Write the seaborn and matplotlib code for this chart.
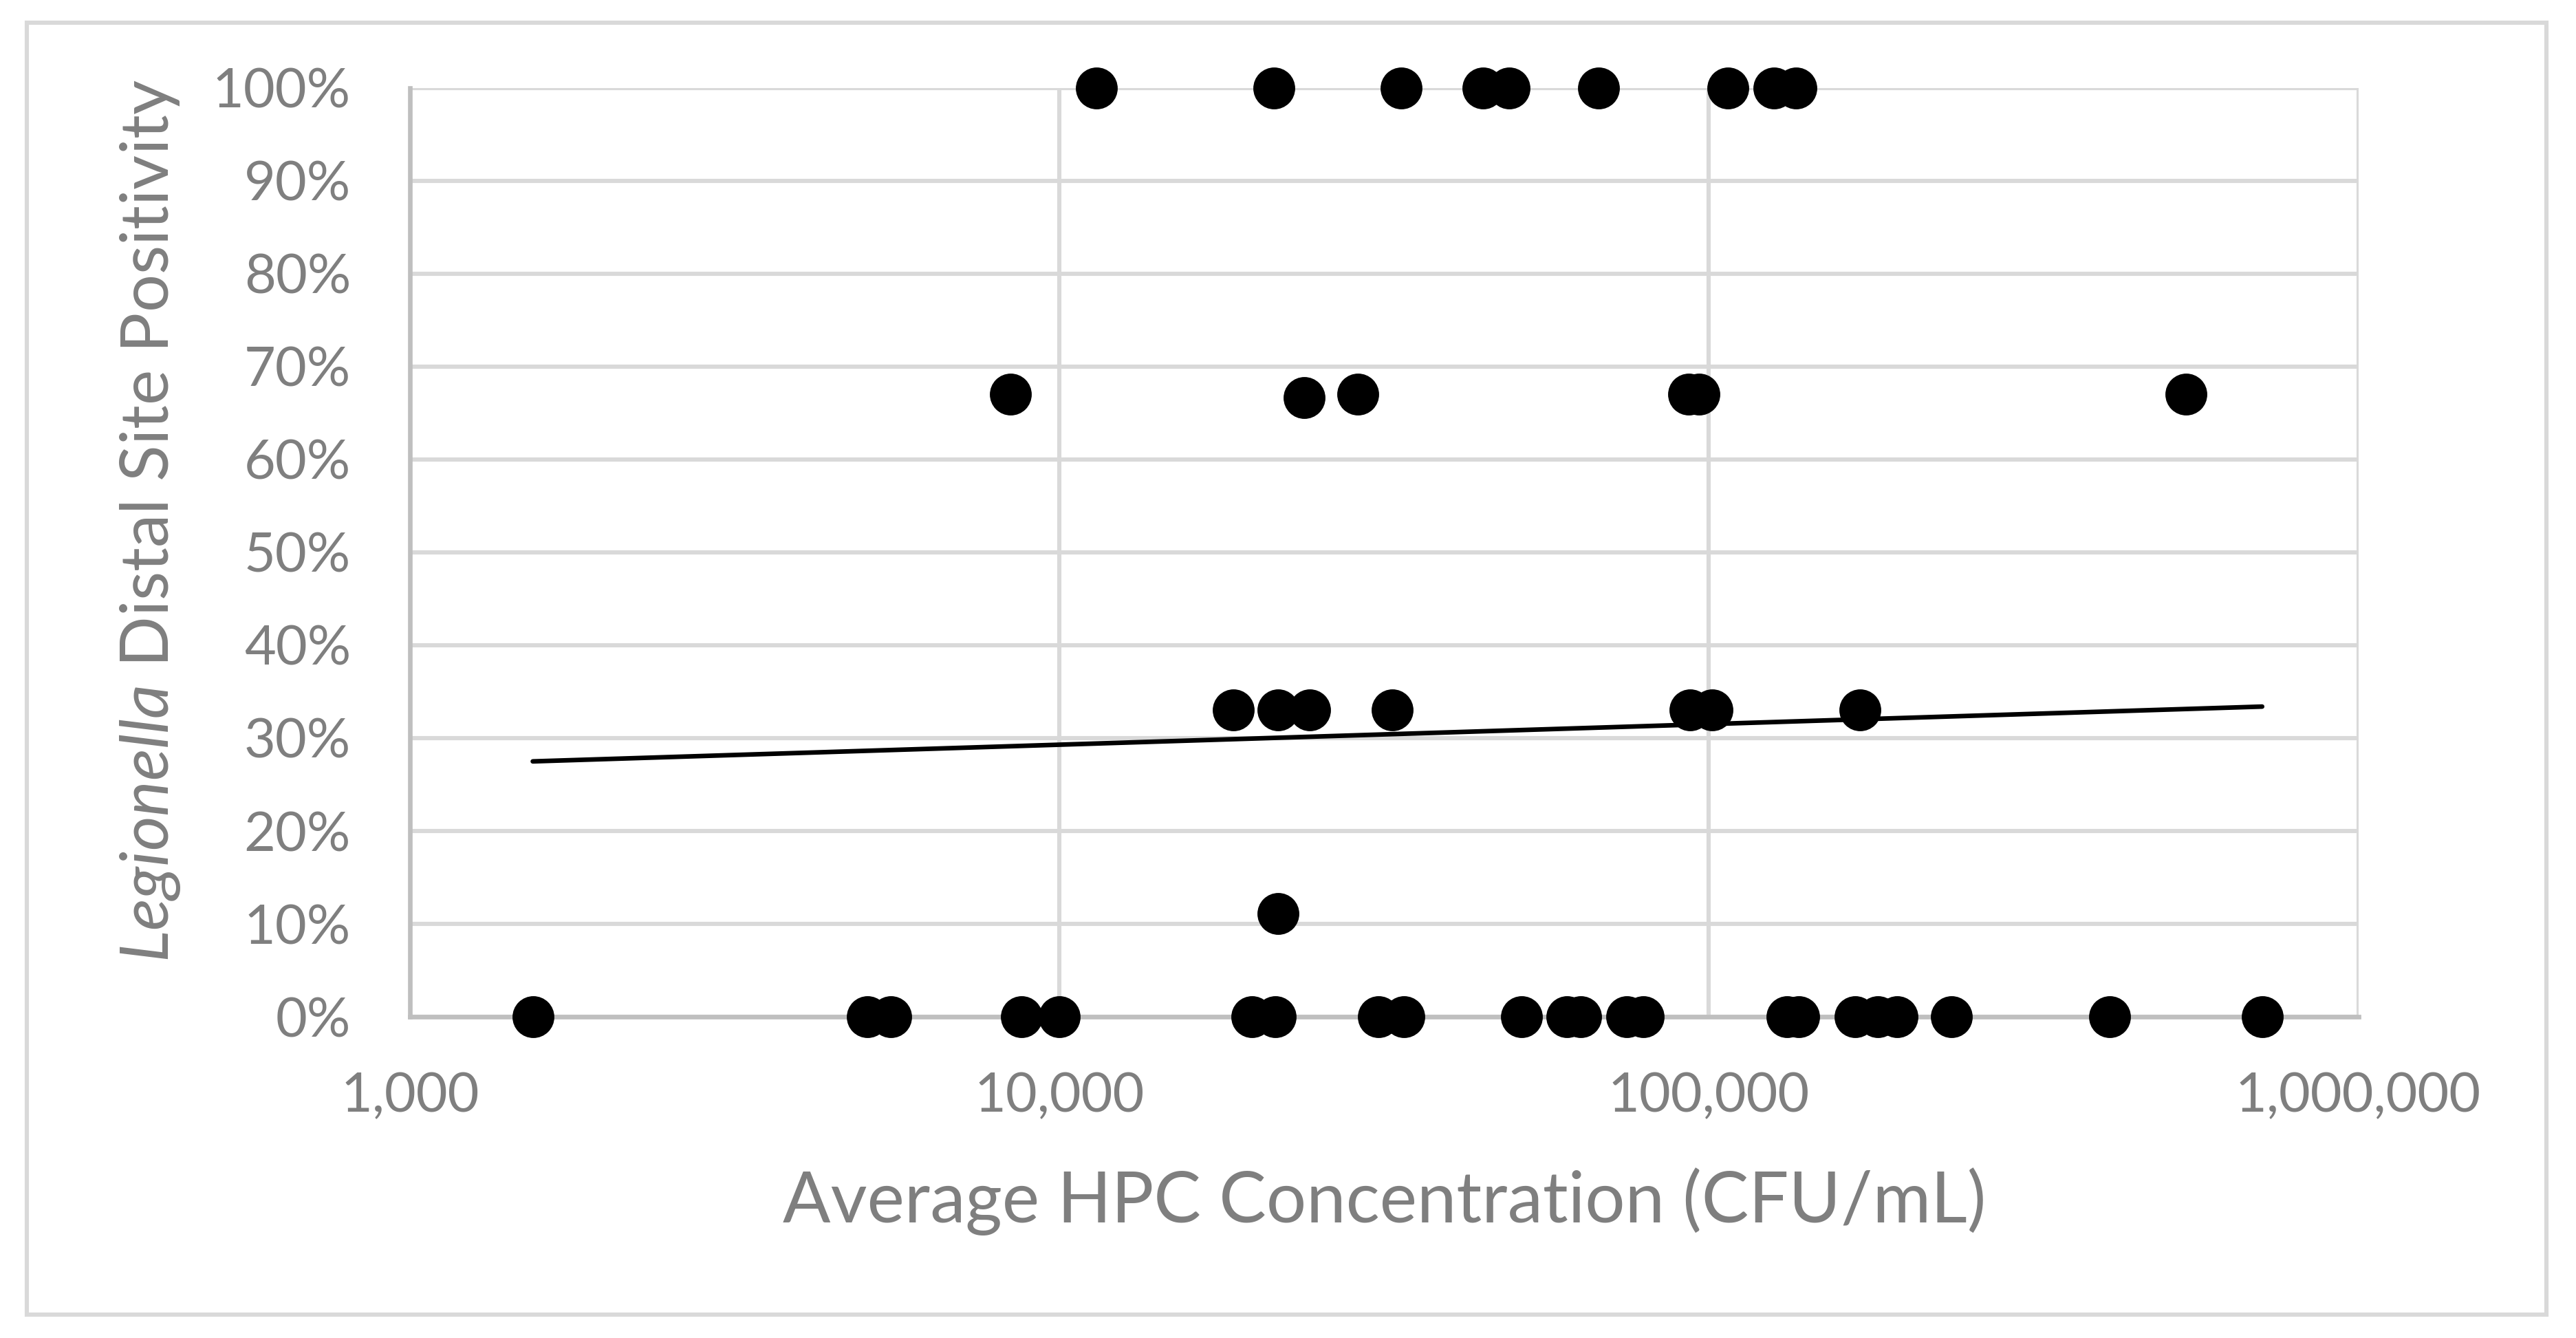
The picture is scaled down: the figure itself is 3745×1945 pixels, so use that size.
import numpy as np
import pandas as pd
import matplotlib
matplotlib.use("Agg")
import matplotlib.pyplot as plt
from matplotlib.ticker import FuncFormatter, FixedLocator
from matplotlib.patches import Rectangle
import seaborn as sns

# HPC (CFU/mL) per site group, grouped by Legionella distal positivity
hpc_100 = [11400, 21400, 33600, 44900, 49300, 67700, 107000, 126000, 136000]
hpc_67 = [8400, 23800, 28800, 93100, 96600, 543000]
pos_67 = [0.67, 0.667, 0.67, 0.67, 0.67, 0.67]
hpc_33 = [18500, 21700, 24300, 32500, 93600, 101000, 171000]
hpc_11 = [21700]
hpc_0 = [1545, 5060, 5495, 8730, 10000, 19800, 21500, 31000, 33900, 51500,
         60400, 63400, 74700, 79200, 131900, 137400, 168000, 182000, 195000,
         236000, 414000, 711000]

# logarithmic trendline as shown on the chart: y = a + b*log10(x)
trend_a = 0.2043
trend_b = 0.02216

x_ticks = [1000, 10000, 100000, 1000000]
y_ticks = [0, 0.1, 0.2, 0.3, 0.4, 0.5, 0.6, 0.7, 0.8, 0.9, 1.0]

df = pd.DataFrame({
    'hpc': hpc_100 + hpc_67 + hpc_33 + hpc_11 + hpc_0,
    'pos': [1.0] * len(hpc_100) + pos_67 + [0.33] * len(hpc_33)
           + [0.111] * len(hpc_11) + [0.0] * len(hpc_0),
})

sns.set_style('white')
plt.rcParams['font.family'] = ['Lato', 'DejaVu Sans']
plt.rcParams['mathtext.fontset'] = 'custom'
plt.rcParams['mathtext.it'] = 'Lato:italic'
plt.rcParams['mathtext.rm'] = 'Lato'

grey = '#7f7f7f'
fig = plt.figure(figsize=(18.725, 9.725), dpi=200)
ax = fig.add_axes([0.1592, 0.2401, 0.9155 - 0.1592, 0.9342 - 0.2401])

ax.set_xscale('log')
ax.set_xlim(1000, 1000000)
ax.set_ylim(0, 1)

ax.grid(True, which='major', color='#d9d9d9', lw=2.2, zorder=0)
ax.set_axisbelow(True)

sns.scatterplot(data=df, x='hpc', y='pos', ax=ax, color='black', s=480,
                edgecolor='black', linewidth=0, clip_on=False, zorder=3)

# trendline over the data range
trend_x = np.geomspace(df['hpc'].min(), df['hpc'].max(), 50)
trend = pd.DataFrame({'hpc': trend_x, 'pos': trend_a + trend_b * np.log10(trend_x)})
sns.lineplot(data=trend, x='hpc', y='pos', ax=ax, color='black', lw=2.4, zorder=4)

ax.xaxis.set_major_locator(FixedLocator(x_ticks))
ax.xaxis.set_minor_locator(FixedLocator([]))
ax.yaxis.set_major_locator(FixedLocator(y_ticks))
ax.xaxis.set_major_formatter(FuncFormatter(lambda v, p: f'{int(v):,}'))
ax.yaxis.set_major_formatter(FuncFormatter(lambda v, p: f'{v:.0%}'))
ax.tick_params(axis='both', length=0, labelsize=28.5, colors=grey)
ax.tick_params(axis='x', pad=29)
ax.tick_params(axis='y', pad=31)

for side in ['top', 'right']:
    ax.spines[side].set_visible(False)
for side in ['left', 'bottom']:
    ax.spines[side].set_color('#bfbfbf')
    ax.spines[side].set_linewidth(2.4)
    ax.spines[side].set_zorder(2)

ax.set_xlabel('Average HPC Concentration (CFU/mL)', fontsize=37, color=grey)
ax.set_ylabel(r'$\it{Legionella}$ Distal Site Positivity', fontsize=35, color=grey)
ax.xaxis.set_label_coords(0.5, -0.162)
ax.yaxis.set_label_coords(-0.117, 0.534)

fig.patches.append(Rectangle((0.0104, 0.0175), 0.9782, 0.9655, transform=fig.transFigure,
                             fill=False, edgecolor='#d9d9d9', lw=2.2))

fig.savefig('out.png', dpi=200, facecolor='white')
